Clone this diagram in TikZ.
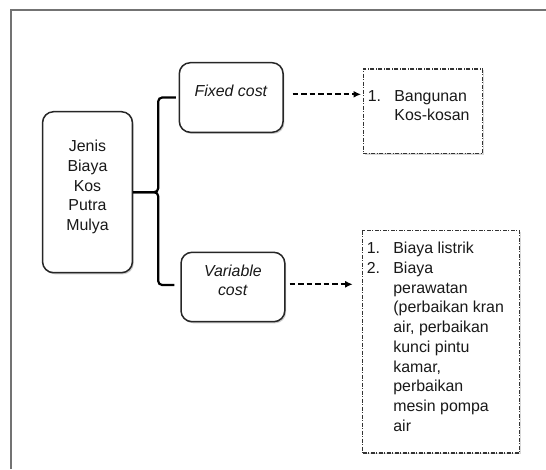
\documentclass[tikz,border=0pt]{standalone}
\usepackage{fontspec}
\setmainfont{Liberation Sans}
\usetikzlibrary{arrows.meta,shadows}

\newcommand{\itemno}[1]{\makebox[26.5pt][l]{#1}}
\newcommand{\itemgap}{\hspace*{26.5pt}}

\tikzset{
  costbox/.style={draw=black!85, line width=1.5pt, rounded corners=11pt, fill=white,
    align=center, inner sep=0pt,
    drop shadow={shadow xshift=1.3pt, shadow yshift=-1.6pt, opacity=0.4}},
  listbox/.style={draw=black!80, line width=1.2pt,
    dash pattern=on 4pt off 1.5pt on 1pt off 1.5pt, fill=white, anchor=north west,
    inner ysep=0pt, drop shadow={shadow xshift=1.2pt, shadow yshift=-1.4pt, opacity=0.3}},
  bracketline/.style={line width=2.2pt, rounded corners=4pt},
  dasharrow/.style={line width=1.8pt, dash pattern=on 5.5pt off 3pt,
    -{Latex[length=7.5pt,width=7pt]}},
}

\begin{document}
\begin{tikzpicture}[x=1pt, y=-1pt, font=\fontsize{15.9pt}{19.7pt}\selectfont, text=black!90]
    \useasboundingbox (0,0) rectangle (546,469);
    % bingkai
    \draw[black!55, line width=1.8pt] (11,469) -- (11,10) -- (546,10);

    \node[costbox, minimum width=89.9pt, minimum height=161pt] (jenis) at (87.5,192.2)
        {Jenis\\Biaya\\Kos\\Putra\\Mulya\\[-6pt]\mbox{}};
    \node[costbox, minimum width=103.8pt, minimum height=69.6pt] (fixed) at (231.2,97.5)
        {\textit{Fixed cost}\\[-6pt]\mbox{}};
    \node[costbox, minimum width=103.8pt, minimum height=69.4pt] (variable) at (232.9,287)
        {\textit{Variable}\\\textit{cost}\\[-6pt]\mbox{}};

    \node[listbox, inner xsep=4.6pt] (fixlist) at (362.7,68.3)
        {\parbox[b][84.4pt][t]{110.1pt}{\vspace*{18.6pt}\strut\itemno{1.}Bangunan\\\itemgap Kos-kosan}};
    \node[listbox, inner xsep=4.3pt] (varlist) at (362,230)
        {\parbox[b][222.3pt][t]{148.3pt}{\vspace*{9.5pt}\strut\itemno{1.}Biaya listrik\\
        \itemno{2.}Biaya\\\itemgap perawatan\\\itemgap (perbaikan kran\\\itemgap air, perbaikan\\
        \itemgap kunci pintu\\\itemgap kamar,\\\itemgap perbaikan\\\itemgap mesin pompa\\\itemgap air}};

    % kurung kurawal
    \draw[bracketline] ([xshift=-2.6pt]fixed.west) -| ([xshift=25pt]jenis.east) -- (jenis.east);
    \draw[bracketline] ([xshift=-6pt,yshift=2pt]variable.west) -| ([xshift=25pt]jenis.east) -- (jenis.east);

    \coordinate (fixtip) at (fixed.east -| fixlist.west);
    \coordinate (vartip) at (variable.east -| varlist.west);
    \draw[dasharrow] ([xshift=8.7pt,yshift=3.2pt]fixed.east) -- ([xshift=-1.7pt,yshift=3.2pt]fixtip);
    \draw[dasharrow] ([xshift=4pt,yshift=2.7pt]variable.east) -- ([xshift=-9.3pt,yshift=2.7pt]vartip);
\end{tikzpicture}
\end{document}
